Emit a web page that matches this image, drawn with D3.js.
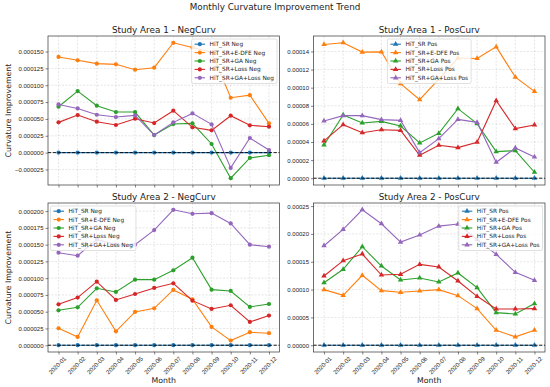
<!DOCTYPE html>
<html>
<head>
<meta charset="utf-8">
<script src="https://cdn.jsdelivr.net/npm/d3@7"></script>
<style>
    body { margin: 0; background: #fff; }
    svg { font-family: "DejaVu Sans", sans-serif; }
    .axis text { font-size: 6px; fill: #222; }
    .axis line { stroke: #333; stroke-width: 0.6; }
    .axis path { display: none; }
</style>
</head>
<body>
<div id="chart"></div>
<script>
var months = ["2020-01", "2020-02", "2020-03", "2020-04", "2020-05", "2020-06",
    "2020-07", "2020-08", "2020-09", "2020-10", "2020-11", "2020-12"];
var methods = ["HiT_SR", "HiT_SR+E-DFE", "HiT_SR+GA", "HiT_SR+Loss", "HiT_SR+GA+Loss"];
var colors = ["#1f77b4", "#ff7f0e", "#2ca02c", "#d62728", "#9467bd"];

// one row per method, same order as methods
var area1Neg = [
    [0, 0, 0, 0, 0, 0, 0, 0, 0, 0, 0, 0],
    [0.000142, 0.000137, 0.000132, 0.000131, 0.000123, 0.000126, 0.000163, 0.000156, 0.000149, 0.0000814, 0.0000853, 0.0000434],
    [0.0000681, 0.0000913, 0.0000696, 0.0000602, 0.0000602, 0.0000261, 0.0000424, 0.0000434, 0.0000128, -0.000038, -0.0000079, -0.0000039],
    [0.0000449, 0.0000557, 0.0000459, 0.000041, 0.0000503, 0.0000439, 0.0000622, 0.0000375, 0.0000331, 0.0000548, 0.0000405, 0.0000385],
    [0.0000715, 0.0000656, 0.0000562, 0.0000528, 0.0000553, 0.0000261, 0.0000449, 0.0000582, 0.0000419, -0.0000227, 0.0000217, 0.0000039]
];
var area1Pos = [
    [0, 0, 0, 0, 0, 0, 0, 0, 0, 0, 0, 0],
    [0.0001477, 0.0001496, 0.0001393, 0.0001396, 0.0001044, 0.0000867, 0.0001095, 0.0001327, 0.0001323, 0.0001451, 0.0001117, 0.0000959],
    [0.0000367, 0.0000698, 0.000061, 0.0000628, 0.0000577, 0.000039, 0.0000496, 0.0000768, 0.0000603, 0.0000294, 0.0000305, 0.0000066],
    [0.0000412, 0.0000592, 0.0000503, 0.0000536, 0.0000529, 0.0000254, 0.0000364, 0.0000338, 0.0000397, 0.0000856, 0.0000548, 0.0000588],
    [0.0000632, 0.0000691, 0.0000691, 0.0000647, 0.0000639, 0.0000283, 0.0000437, 0.000065, 0.0000617, 0.0000176, 0.0000334, 0.0000235]
];
var area2Neg = [
    [0, 0, 0, 0, 0, 0, 0, 0, 0, 0, 0, 0],
    [0.0000253, 0.0000124, 0.000067, 0.0000208, 0.0000496, 0.0000551, 0.0000824, 0.0000685, 0.0000273, 0.0000069, 0.0000194, 0.0000179],
    [0.0000521, 0.0000566, 0.0000849, 0.0000794, 0.0000978, 0.0000978, 0.0001117, 0.0001305, 0.0000829, 0.0000809, 0.0000571, 0.0000615],
    [0.000061, 0.000071, 0.0000948, 0.0000675, 0.0000764, 0.0000854, 0.0000923, 0.0000665, 0.0000541, 0.0000596, 0.0000347, 0.0000442],
    [0.000138, 0.0001335, 0.0001578, 0.00015, 0.0001499, 0.0001717, 0.000202, 0.000196, 0.000197, 0.0001816, 0.0001499, 0.0001469]
];
var area2Pos = [
    [0, 0, 0, 0, 0, 0, 0, 0, 0, 0, 0, 0],
    [0.0000999, 0.0000897, 0.0001256, 0.0000981, 0.0000951, 0.0000975, 0.0000999, 0.0000891, 0.0000658, 0.0000269, 0.000015, 0.0000269],
    [0.0001124, 0.0001364, 0.000177, 0.0001423, 0.0001172, 0.0001208, 0.0001136, 0.0001298, 0.0001035, 0.0000586, 0.0000562, 0.0000748],
    [0.0001244, 0.0001519, 0.0001639, 0.0001262, 0.0001274, 0.0001453, 0.0001405, 0.0001154, 0.0000879, 0.0000652, 0.0000652, 0.0000658],
    [0.0001788, 0.0002081, 0.0002434, 0.0002183, 0.0001854, 0.000198, 0.0002141, 0.0002177, 0.00019, 0.0001633, 0.000131, 0.0001166]
];

var yTicksA1Neg = [-0.000025, 0, 0.000025, 0.00005, 0.000075, 0.0001, 0.000125, 0.00015];
var yTicksA1Pos = [0, 0.00002, 0.00004, 0.00006, 0.00008, 0.0001, 0.00012, 0.00014];
var yTicksA2Neg = [0, 0.000025, 0.00005, 0.000075, 0.0001, 0.000125, 0.00015, 0.000175, 0.0002];
var yTicksA2Pos = [0, 0.00005, 0.0001, 0.00015, 0.0002, 0.00025];

var panels = [
    {title: "Study Area 1 - NegCurv", data: area1Neg, suffix: " Neg", marker: "circle",
        ticks: yTicksA1Neg, fmt: ".6f", left: 48, top: 36, legend: "right", bottomRow: false},
    {title: "Study Area 1 - PosCurv", data: area1Pos, suffix: " Pos", marker: "triangle",
        ticks: yTicksA1Pos, fmt: ".5f", left: 313.5, top: 36, legend: "center", bottomRow: false},
    {title: "Study Area 2 - NegCurv", data: area2Neg, suffix: " Neg", marker: "circle",
        ticks: yTicksA2Neg, fmt: ".6f", left: 48, top: 203, legend: "left", bottomRow: true},
    {title: "Study Area 2 - PosCurv", data: area2Pos, suffix: " Pos", marker: "triangle",
        ticks: yTicksA2Pos, fmt: ".5f", left: 313.5, top: 203, legend: "right", bottomRow: true}
];

var width = 231.5, height = 149;

var svg = d3.select("#chart").append("svg")
    .attr("width", 550)
    .attr("height", 387);

svg.append("text")
    .attr("x", 275)
    .attr("y", 10)
    .attr("text-anchor", "middle")
    .style("font-size", "8.8px")
    .style("fill", "#222")
    .text("Monthly Curvature Improvement Trend");

panels.forEach(drawPanel);

function markerPath(kind) {
    if (kind === "triangle") return d3.symbol(d3.symbolTriangle).size(13)();
    return d3.symbol(d3.symbolCircle).size(14)();
}

function drawPanel(p) {
    var g = svg.append("g")
        .attr("transform", "translate(" + p.left + "," + p.top + ")");

    var x = d3.scaleLinear()
        .domain([-0.55, months.length - 1 + 0.55])
        .range([0, width]);

    var all = d3.merge(p.data);
    var lo = d3.min(all), hi = d3.max(all), pad = (hi - lo) * 0.05;
    var y = d3.scaleLinear()
        .domain([lo - pad, hi + pad])
        .range([height, 0]);

    // grid
    var grid = g.append("g").attr("class", "grid");
    grid.selectAll(".gx").data(d3.range(months.length)).enter().append("line")
        .attr("x1", function (d) { return x(d); })
        .attr("x2", function (d) { return x(d); })
        .attr("y1", 0).attr("y2", height);
    grid.selectAll(".gy").data(p.ticks).enter().append("line")
        .attr("x1", 0).attr("x2", width)
        .attr("y1", function (d) { return y(d); })
        .attr("y2", function (d) { return y(d); });
    grid.selectAll("line")
        .style("stroke", "#b8b8b8")
        .style("stroke-width", 0.5)
        .style("stroke-dasharray", "2,1.5")
        .style("opacity", 0.7);

    // axes
    g.append("g")
        .attr("class", "axis")
        .call(d3.axisLeft(y)
            .tickValues(p.ticks)
            .tickSize(2.5)
            .tickPadding(2)
            .tickFormat(d3.format(p.fmt)));

    var xa = g.append("g")
        .attr("class", "axis")
        .attr("transform", "translate(0," + height + ")")
        .call(d3.axisBottom(x)
            .tickValues(d3.range(months.length))
            .tickSize(2.5)
            .tickFormat(function (i) { return p.bottomRow ? months[i] : ""; }));

    if (p.bottomRow) {
        xa.selectAll("text")
            .attr("y", null)
            .attr("dy", null)
            .attr("text-anchor", "middle")
            .attr("dominant-baseline", "central")
            .attr("transform", "translate(-1.5,13.5) rotate(-45)");

        g.append("text")
            .attr("x", width / 2)
            .attr("y", height + 31)
            .attr("text-anchor", "middle")
            .style("font-size", "7.8px")
            .style("fill", "#222")
            .text("Month");
    }

    if (p.left < 100) {
        g.append("text")
            .attr("transform", "translate(-37.5," + (height / 2) + ") rotate(-90)")
            .attr("text-anchor", "middle")
            .style("font-size", "7.8px")
            .style("fill", "#222")
            .text("Curvature Improvement");
    }

    g.append("text")
        .attr("x", width / 2)
        .attr("y", -3.5)
        .attr("text-anchor", "middle")
        .style("font-size", "8.8px")
        .style("fill", "#222")
        .text(p.title);

    // series
    var line = d3.line()
        .x(function (d, i) { return x(i); })
        .y(function (d) { return y(d); });

    var series = g.append("g").selectAll("g")
        .data(p.data)
        .enter().append("g");

    series.append("path")
        .attr("d", line)
        .style("fill", "none")
        .style("stroke", function (d, k) { return colors[k]; })
        .style("stroke-width", 1.1);

    series.each(function (vals, k) {
        d3.select(this).selectAll(".m")
            .data(vals)
            .enter().append("path")
            .attr("d", markerPath(p.marker))
            .attr("transform", function (d, i) { return "translate(" + x(i) + "," + y(d) + ")"; })
            .style("fill", colors[k]);
    });

    // zero line
    g.append("line")
        .attr("x1", 0).attr("x2", width)
        .attr("y1", y(0)).attr("y2", y(0))
        .style("stroke", "#000")
        .style("stroke-width", 0.9)
        .style("stroke-dasharray", "3.2,1.6");

    // frame
    g.append("rect")
        .attr("width", width)
        .attr("height", height)
        .style("fill", "none")
        .style("stroke", "#333")
        .style("stroke-width", 0.7);

    drawLegend(g, p);
}

function drawLegend(g, p) {
    var rowH = 8.4, fs = 5.8;
    var lg = g.append("g");
    var box = lg.append("rect");
    var items = lg.selectAll(".item")
        .data(methods)
        .enter().append("g")
        .attr("transform", function (d, i) { return "translate(0," + (i * rowH) + ")"; });

    items.append("line")
        .attr("x1", 3).attr("x2", 13.5)
        .style("stroke", function (d, i) { return colors[i]; })
        .style("stroke-width", 1.1);
    items.append("path")
        .attr("d", markerPath(p.marker))
        .attr("transform", "translate(8.25,0)")
        .style("fill", function (d, i) { return colors[i]; });
    var labels = items.append("text")
        .attr("x", 18)
        .attr("dy", "0.35em")
        .style("font-size", fs + "px")
        .style("fill", "#222")
        .text(function (d) { return d + p.suffix; });

    var maxLen = d3.max(labels.nodes(), function (n) { return n.getComputedTextLength(); });
    var bw = 18 + maxLen + 3, bh = methods.length * rowH + 2.5;
    box.attr("x", 0).attr("y", -rowH / 2 - 1)
        .attr("width", bw).attr("height", bh)
        .attr("rx", 1.5)
        .style("fill", "#fff")
        .style("fill-opacity", 0.8)
        .style("stroke", "#ccc")
        .style("stroke-width", 0.6);

    var lx;
    if (p.legend === "right") lx = width - 2.5 - bw;
    else if (p.legend === "left") lx = 2.5;
    else lx = (width - bw) / 2;
    lg.attr("transform", "translate(" + lx + "," + (3 + rowH / 2 + 1) + ")");
}
</script>
</body>
</html>
